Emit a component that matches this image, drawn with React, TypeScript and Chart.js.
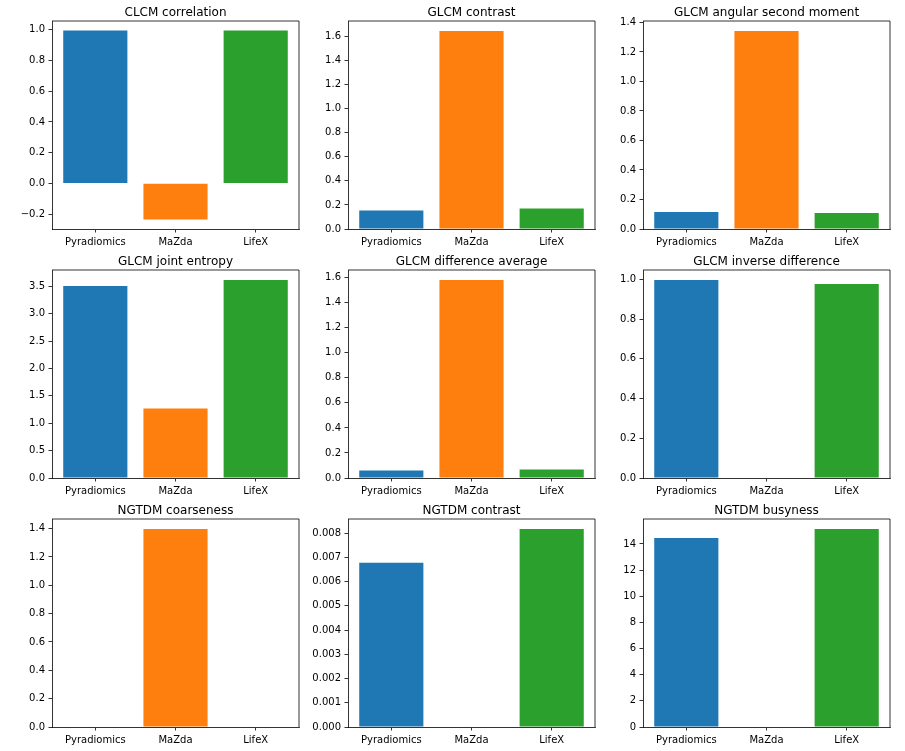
import React, { useEffect, useRef } from "react";
import { Chart, registerables } from "chart.js";
Chart.register(...registerables);

const categories = ["Pyradiomics", "MaZda", "LifeX"];
const barColors = ["#1f77b4", "#ff7f0e", "#2ca02c"];

const panelTitles = [
  "CLCM correlation",
  "GLCM contrast",
  "GLCM angular second moment",
  "GLCM joint entropy",
  "GLCM difference average",
  "GLCM inverse difference",
  "NGTDM coarseness",
  "NGTDM contrast",
  "NGTDM busyness",
];

const glcmCorrelation = [0.995, -0.235, 0.994];
const glcmContrast = [0.153, 1.647, 0.17];
const glcmAngularSecondMoment = [0.116, 1.343, 0.109];
const glcmJointEntropy = [3.507, 1.27, 3.616];
const glcmDifferenceAverage = [0.059, 1.582, 0.067];
const glcmInverseDifference = [0.997, 0, 0.976];
const ngtdmCoarseness = [0, 1.398, 0];
const ngtdmContrast = [0.00677, 0, 0.00817];
const ngtdmBusyness = [14.46, 0, 15.15];

const tickSteps = [0.2, 0.2, 0.2, 0.5, 0.2, 0.2, 0.2, 0.001, 2];
const tickDecimals = [1, 1, 1, 1, 1, 1, 1, 3, 0];

const seriesList = [
  glcmCorrelation,
  glcmContrast,
  glcmAngularSecondMoment,
  glcmJointEntropy,
  glcmDifferenceAverage,
  glcmInverseDifference,
  ngtdmCoarseness,
  ngtdmContrast,
  ngtdmBusyness,
];

// layout (pixels)
const COL_LEFTS = [52, 348, 643];
const ROW_TOPS = [21, 270, 519];
const AX_W = 247;
const AX_H = 208;
const Y_AXIS_W = 52;
const TITLE_SPACE = 21;
const X_AXIS_H = 22;
const RIGHT_PAD = 4;

const FONT_FAMILY = '"DejaVu Sans", sans-serif';

const panelDecor = {
  id: "panelDecor",
  afterDraw(chart: any, _args: any, opts: any) {
    const { ctx, chartArea } = chart;
    const { left, right, top, bottom } = chartArea;
    ctx.save();
    ctx.font = `12px ${FONT_FAMILY}`;
    ctx.fillStyle = "#000";
    ctx.textAlign = "center";
    ctx.textBaseline = "alphabetic";
    ctx.fillText(opts.text || "", (left + right) / 2, top - 5);
    ctx.strokeStyle = "#000";
    ctx.lineWidth = 0.8;
    ctx.beginPath();
    ctx.moveTo(left, top);
    ctx.lineTo(right, top);
    ctx.lineTo(right, bottom);
    ctx.stroke();
    ctx.restore();
  },
};

function Panel({ index }: { index: number }) {
  const ref = useRef<HTMLCanvasElement | null>(null);
  const col = index % 3;
  const row = Math.floor(index / 3);
  const width = Y_AXIS_W + AX_W + RIGHT_PAD;
  const height = TITLE_SPACE + AX_H + X_AXIS_H;

  useEffect(() => {
    if (!ref.current) return;
    const values = seriesList[index];
    const lo = Math.min(0, ...values);
    const hi = Math.max(0, ...values);
    const span = hi - lo;
    const yMin = lo < 0 ? lo - 0.05 * span : 0;
    const yMax = hi + 0.05 * span;
    const step = tickSteps[index];
    const dec = tickDecimals[index];

    const gridOpts = {
      display: true,
      drawOnChartArea: false,
      drawTicks: true,
      offset: false,
      tickLength: 3.5,
      color: "#000",
      lineWidth: 0.8,
    };
    const borderOpts = { display: true, color: "#000", width: 0.8 };
    const font = { family: FONT_FAMILY, size: 10 };

    const chart = new Chart(ref.current, {
      type: "bar",
      data: {
        datasets: [
          {
            data: values.map((v, i) => ({ x: i, y: v })),
            backgroundColor: barColors,
            borderWidth: 0,
            barPercentage: 0.8,
            categoryPercentage: 1,
          } as any,
        ],
      },
      options: {
        responsive: false,
        animation: false,
        events: [],
        layout: { padding: { top: TITLE_SPACE, right: RIGHT_PAD, left: 0, bottom: 0 } },
        scales: {
          x: {
            type: "linear",
            offset: false,
            min: -0.54,
            max: 2.54,
            afterBuildTicks: (s: any) => {
              s.ticks = categories.map((_c, i) => ({ value: i }));
            },
            afterFit: (s: any) => {
              s.height = X_AXIS_H;
            },
            ticks: {
              callback: (v: any) => categories[Math.round(Number(v))],
              font,
              color: "#000",
              padding: 3.5,
              maxRotation: 0,
              minRotation: 0,
              autoSkip: false,
            },
            grid: gridOpts,
            border: borderOpts,
          },
          y: {
            type: "linear",
            offset: false,
            min: yMin,
            max: yMax,
            afterBuildTicks: (s: any) => {
              const ticks: any[] = [];
              const first = Math.ceil(yMin / step - 1e-9);
              const last = Math.floor(yMax / step + 1e-9);
              for (let k = first; k <= last; k++) {
                ticks.push({ value: Number((k * step).toFixed(6)) });
              }
              s.ticks = ticks;
            },
            afterFit: (s: any) => {
              s.width = Y_AXIS_W;
            },
            ticks: {
              callback: (v: any) => {
                const n = Number(v);
                const t = Math.abs(n) < 1e-12 ? (0).toFixed(dec) : n.toFixed(dec);
                return t.replace("-", "\u2212");
              },
              font,
              color: "#000",
              padding: 3.5,
              autoSkip: false,
            },
            grid: gridOpts,
            border: borderOpts,
          },
        },
        plugins: {
          legend: { display: false },
          tooltip: { enabled: false },
          title: { display: false },
          panelDecor: { text: panelTitles[index] },
        } as any,
      },
      plugins: [panelDecor],
    } as any);
    return () => chart.destroy();
  }, [index]);

  return (
    <canvas
      ref={ref}
      width={width}
      height={height}
      style={{
        position: "absolute",
        left: COL_LEFTS[col] - Y_AXIS_W,
        top: ROW_TOPS[row] - TITLE_SPACE,
        width,
        height,
      }}
    />
  );
}

export default function App() {
  return (
    <div
      style={{
        position: "absolute",
        left: 0,
        top: 0,
        width: 905,
        height: 751,
        background: "#fff",
        overflow: "hidden",
      }}
    >
      {panelTitles.map((_t, i) => (
        <Panel key={i} index={i} />
      ))}
    </div>
  );
}
